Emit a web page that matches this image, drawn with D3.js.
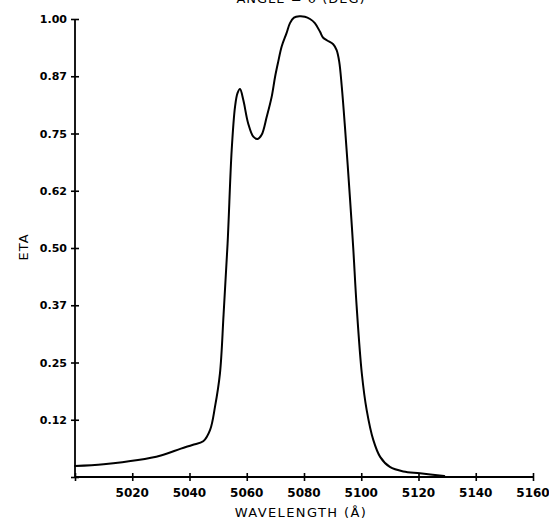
<!DOCTYPE html>
<html>
<head>
<meta charset="utf-8">
<script src="https://cdn.jsdelivr.net/npm/d3@7/dist/d3.min.js"></script>
<style>
  html, body { margin: 0; padding: 0; background: #fff; }
  svg { display: block; }
</style>
</head>
<body>
<script>
// ---- data ----
const wavelength = [5000, 5010, 5022, 5030, 5037, 5041, 5044.8, 5047.2, 5048.9, 5050.65, 5051.9, 5053.3, 5054.74, 5055.9, 5056.77, 5057.64, 5058.8, 5060.5, 5062.3, 5063.8, 5065.2, 5067.0, 5068.7, 5069.9, 5071.0, 5072.2, 5073.9, 5075.1, 5076.5, 5078.4, 5080.3, 5082.1, 5083.8, 5085.6, 5086.7, 5088.1, 5090.2, 5091.4, 5092.3, 5093.2, 5094.3, 5096.1, 5097.2, 5098.4, 5100.2, 5101.9, 5104.2, 5106.6, 5110.0, 5114.7, 5120.5, 5129];
const eta = [0.024, 0.028, 0.037, 0.047, 0.062, 0.070, 0.078, 0.103, 0.153, 0.227, 0.354, 0.509, 0.714, 0.808, 0.838, 0.847, 0.823, 0.772, 0.743, 0.738, 0.747, 0.787, 0.830, 0.874, 0.907, 0.94, 0.969, 0.991, 1.003, 1.006, 1.005, 1.0, 0.991, 0.972, 0.959, 0.953, 0.945, 0.932, 0.907, 0.852, 0.765, 0.605, 0.5, 0.372, 0.226, 0.146, 0.081, 0.044, 0.022, 0.012, 0.008, 0.002];
const xTickValues = [5020, 5040, 5060, 5080, 5100, 5120, 5140, 5160];
const xTickLabels = ["5020", "5040", "5060", "5080", "5100", "5120", "5140", "5160"];
const yTickValues = [0.125, 0.25, 0.375, 0.5, 0.625, 0.75, 0.875, 1.0];
const yTickLabels = ["0.12", "0.25", "0.37", "0.50", "0.62", "0.75", "0.87", "1.00"];
const xTitle = "WAVELENGTH (Å)";
const yTitle = "ETA";
const topTitle = "ANGLE = 0 (DEG)";

// ---- chart ----
const W = 549, H = 523;
const svg = d3.select("body").append("svg").attr("width", W).attr("height", H);
svg.append("rect").attr("width", W).attr("height", H).attr("fill", "#fff");

const x = d3.scaleLinear().domain([5000, 5160]).range([75, 533]);
const y = d3.scaleLinear().domain([0, 1]).range([477, 19]);

const font = "'DejaVu Sans', sans-serif";

// X axis
const xAxis = svg.append("g").attr("transform", `translate(0,${y(0)})`)
  .call(d3.axisBottom(x).tickValues([5000].concat(xTickValues)).tickSize(0).tickFormat(""));
xAxis.select(".domain").attr("stroke", "#000").attr("stroke-width", 1.8).attr("d", `M${x(5000)},0H${x(5160)}`);
xAxis.selectAll(".tick line").attr("y1", -4).attr("y2", 4).attr("stroke", "#000").attr("stroke-width", 1.6);
xAxis.selectAll(".tick text").remove();
svg.append("g").selectAll("text").data(xTickValues).join("text")
  .attr("x", d => x(d)).attr("y", 497)
  .attr("text-anchor", "middle")
  .attr("font-family", font).attr("font-weight", "bold").attr("font-size", 12)
  .attr("fill", "#000")
  .text((d, i) => xTickLabels[i]);

// Y axis
const yAxis = svg.append("g").attr("transform", `translate(${x(5000)},0)`)
  .call(d3.axisLeft(y).tickValues([0].concat(yTickValues)).tickSize(0).tickFormat(""));
yAxis.select(".domain").attr("stroke", "#000").attr("stroke-width", 1.8).attr("d", `M0,${y(0)}V${y(1)}`);
yAxis.selectAll(".tick line").attr("x1", -4).attr("x2", 4).attr("stroke", "#000").attr("stroke-width", 1.6);
yAxis.selectAll(".tick text").remove();
svg.append("g").selectAll("text").data(yTickValues).join("text")
  .attr("x", 67).attr("y", d => y(d) + 4)
  .attr("text-anchor", "end")
  .attr("font-family", font).attr("font-weight", "bold").attr("font-size", 11)
  .attr("fill", "#000")
  .text((d, i) => yTickLabels[i]);

// Curve
const pts = wavelength.map((w, i) => [w, eta[i]]);
const line = d3.line().x(d => x(d[0])).y(d => y(d[1])).curve(d3.curveCatmullRom.alpha(0.5));
svg.append("path").datum(pts).attr("d", line)
  .attr("fill", "none").attr("stroke", "#000").attr("stroke-width", 2)
  .attr("stroke-linejoin", "round").attr("stroke-linecap", "round");

// Titles
svg.append("text").attr("x", 301).attr("y", 517).attr("text-anchor", "middle")
  .attr("font-family", font).attr("font-size", 13).attr("letter-spacing", 1.4)
  .attr("fill", "#000").text(xTitle);
svg.append("text").attr("transform", "translate(28,247) rotate(-90)").attr("text-anchor", "middle")
  .attr("font-family", font).attr("font-size", 13).attr("letter-spacing", 1)
  .attr("fill", "#000").text(yTitle);
svg.append("text").attr("x", 301).attr("y", 2.5).attr("text-anchor", "middle")
  .attr("font-family", font).attr("font-size", 13).attr("letter-spacing", 1)
  .attr("fill", "#000").text(topTitle);
</script>
</body>
</html>
